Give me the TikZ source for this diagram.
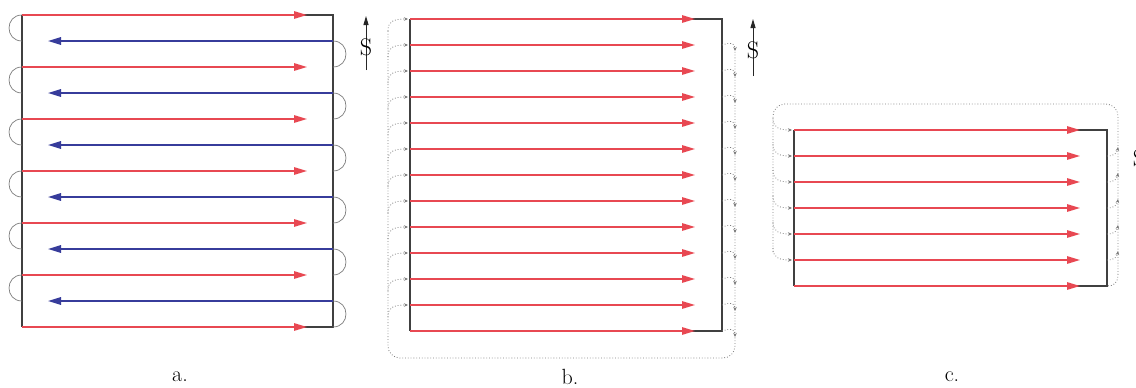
\documentclass[tikz,border=0pt]{standalone}
\usetikzlibrary{arrows.meta}
\definecolor{rl}{RGB}{232,72,82}
\definecolor{bl}{RGB}{55,60,155}
\definecolor{gl}{RGB}{125,125,125}
\begin{document}
\begin{tikzpicture}[x=1pt,y=-1pt,
 redarrow/.style={draw=rl,line width=1.4pt,-{Triangle[length=13pt,width=7.5pt]}},
 bluearrow/.style={draw=bl,line width=1.6pt,-{Triangle[length=13pt,width=7.5pt]}},
 frame/.style={draw=black!75,line width=1.1pt},
 loopline/.style={draw=gl,line width=0.7pt},
 dots/.style={draw=gl,line width=0.8pt,dotted},
 smallarrow/.style={-{Stealth[length=4pt,width=3.5pt]}},
 lbl/.style={font=\fontsize{22}{24}\selectfont},
 sym/.style={font=\fontsize{24}{26}\selectfont,inner sep=0pt},
 sarrow/.style={draw=black!85,line width=1pt,-{Triangle[length=9pt,width=5pt]}},
]
\useasboundingbox (0,0) rectangle (1136,388);
\fill[white] (0,0) rectangle (1136,388);
% ---------- panel a ----------
\draw[frame] (22,15) -- (22,327);
\draw[frame] (300,15) -- (333,15) -- (333,327) -- (300,327);
\foreach \y in {15,67,...,327} \draw[redarrow] (22,\y) -- (307,\y);
\foreach \y in {41,93,...,301} \draw[bluearrow] (333,\y) -- (48,\y);
\foreach \y in {15,67,...,275}
  \draw[loopline] (22,\y) .. controls (4.7,\y) and (4.7,\y+26) .. (22,\y+26);
\foreach \y in {41,93,...,301}
  \draw[loopline] (333,\y) .. controls (350.3,\y) and (350.3,\y+26) .. (333,\y+26);
\draw[sarrow] (366,70) -- (366,16);
\node[sym] (sa) at (366,47) {S};
\node[lbl] (la) at (180,377) {a.};
% ---------- panel b ----------
\draw[frame] (410,19) -- (410,331);
\draw[frame] (690,19) -- (722,19) -- (722,331) -- (690,331);
\foreach \y in {19,45,...,331} \draw[redarrow] (410,\y) -- (695,\y);
\draw[dots,rounded corners=12pt] (388,31) -- (388,358) -- (735,358) -- (735,50);
\foreach \y in {19,45,...,305}
  \draw[dots,smallarrow] (388,\y+12) .. controls (388,\y+3) and (392,\y) .. (408,\y);
\foreach \y in {45,71,...,331}
  \draw[dots,smallarrow] (722,\y) .. controls (731,\y-3) and (735,\y-2) .. (735,\y+6);
\draw[sarrow] (753,76) -- (753,19);
\node[sym] (sb) at (753,50) {S};
\node[lbl] (lb) at (570,377) {b.};
% ---------- panel c ----------
\draw[frame] (794,130) -- (794,286);
\draw[frame] (1075,130) -- (1107,130) -- (1107,286) -- (1075,286);
\foreach \y in {130,156,...,286} \draw[redarrow] (794,\y) -- (1080,\y);
\draw[dots,rounded corners=12pt] (773,252) -- (773,104) -- (1118,104) -- (1118,274);
\draw[dots] (1118,274) .. controls (1118,283) and (1114,286) .. (1107,286);
\foreach \y in {130,156,...,260}
  \draw[dots,smallarrow] (773,\y-12) .. controls (773,\y-3) and (778,\y) .. (792,\y);
\foreach \y in {156,182,...,260}
  \draw[dots,smallarrow] (1107,\y) .. controls (1113,\y) and (1117,\y-2) .. (1118,\y-9);
\draw[sarrow] (1139,186) -- (1139,128);
\node[sym] (sc) at (1139,158) {S};
\node[lbl] (lc) at (952,377) {c.};
\end{tikzpicture}
\end{document}
